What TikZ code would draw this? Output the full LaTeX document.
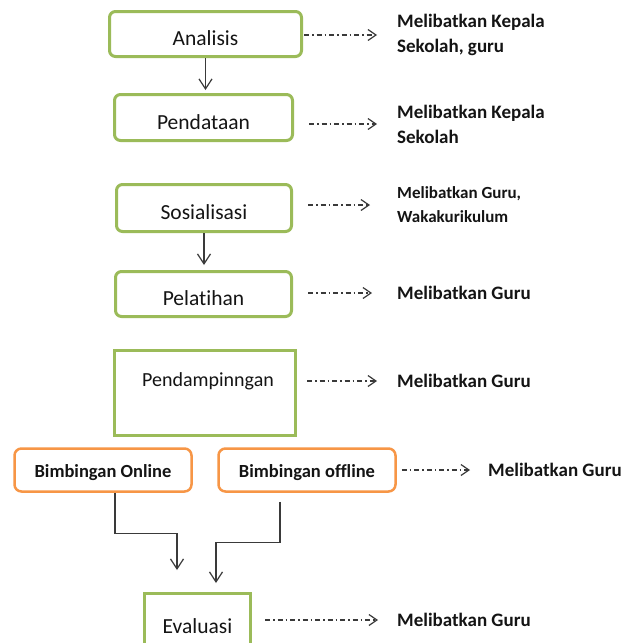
\documentclass[tikz,border=0pt]{standalone}
\usepackage{fontspec}
\setmainfont[Ligatures={NoCommon}]{Carlito}
\usetikzlibrary{arrows.meta}
\definecolor{gbox}{HTML}{9BBB59}
\definecolor{obox}{HTML}{F79646}
\definecolor{lnk}{HTML}{3A3A3A}
\definecolor{txt}{HTML}{141414}
\begin{document}
\begin{tikzpicture}[x=1pt,y=-1pt,
  gbx/.style={draw=gbox, line width=3pt, rounded corners=6pt, inner sep=0pt,
    font=\fontsize{21.5}{25}\selectfont, text=txt, text height=23pt, text depth=0pt},
  gsq/.style={draw=gbox, line width=3pt, inner sep=0pt,
    font=\fontsize{21.5}{25}\selectfont, text=txt},
  obx/.style={draw=obox, line width=2.5pt, rounded corners=7pt, inner sep=0pt,
    font=\bfseries\fontsize{18.5}{22}\selectfont, text=txt, text height=14pt, text depth=0pt},
  lbl/.style={anchor=west, inner sep=0pt, align=left, text=txt,
    font=\bfseries\fontsize{19}{25}\selectfont},
  lbls/.style={anchor=west, inner sep=0pt, align=left, text=txt,
    font=\bfseries\fontsize{17}{24}\selectfont},
  dsh/.style={draw=lnk, line width=1.1pt, dash pattern=on 5pt off 3pt on 1.5pt off 3pt,
    -{Straight Barb[length=8pt,width=11pt,line width=1.2pt]}},
  sol/.style={draw=lnk, line width=1.2pt,
    -{Straight Barb[length=10pt,width=13pt,line width=1.2pt]}}
]
\useasboundingbox (0,0) rectangle (623,643);
\clip (0,0) rectangle (623,643);
\fill[white] (0,0) rectangle (623,643);

% boxes
\node[gbx, minimum width=192pt, minimum height=45pt] (an) at (205.5,34) {Analisis};
\node[gbx, minimum width=178pt, minimum height=46pt] (pe) at (203.5,117.5) {Pendataan};
\node[gbx, minimum width=175pt, minimum height=47pt] (so) at (204,208) {Sosialisasi};
\node[gbx, minimum width=176pt, minimum height=45pt] (pl) at (203.5,294) {Pelatihan};
\node[gsq, minimum width=181pt, minimum height=85pt, text height=0pt, text depth=14pt,
  font=\fontsize{20}{24}\selectfont] (pd) at (205,393) {\hspace*{6pt}Pendampinngan};
\node[obx, minimum width=177pt, minimum height=43pt] (bo) at (103,470) {Bimbingan Online};
\node[obx, minimum width=177pt, minimum height=43pt] (bf) at (307,470) {Bimbingan offline};
\node[gsq, minimum width=106pt, minimum height=65pt] (ev) at (197.5,626) {Evaluasi};

% labels
\node[lbl] (l1) at (397,35) {Melibatkan Kepala\\Sekolah, guru};
\node[lbl] (l2) at (397,124) {Melibatkan Kepala\\Sekolah};
\node[lbls] (l3) at (397,205) {Melibatkan Guru,\\Wakakurikulum};
\node[lbl] (l4) at (397,293) {Melibatkan Guru};
\node[lbl] (l5) at (397,381) {Melibatkan Guru};
\node[lbl] (l6) at (488,470) {Melibatkan Guru};
\node[lbl] (l7) at (397,620) {Melibatkan Guru};

% dashed connectors
\draw[dsh, shorten <=1pt, shorten >=20pt] (an.east |- l1.west) -- (l1.west);
\draw[dsh, shorten <=15pt, shorten >=20pt] (pe.east |- l2.west) -- (l2.west);
\draw[dsh, shorten <=15pt, shorten >=27pt] (so.east |- l3.west) -- (l3.west);
\draw[dsh, shorten <=15pt, shorten >=25pt] (pl.east |- l4.west) -- (l4.west);
\draw[dsh, shorten <=10pt, shorten >=20pt] (pd.east |- l5.west) -- (l5.west);
\draw[dsh, shorten <=5pt, shorten >=18pt] (bf.east |- l6.west) -- (l6.west);
\draw[dsh, shorten <=13pt, shorten >=19pt] (ev.east |- l7.west) -- (l7.west);

% solid connectors
\draw[sol, shorten >=3pt] (an.south) -- (an.south |- pe.north);
\draw[sol, shorten >=5pt] (so.south) -- (so.south |- pl.north);
\draw[sol] ([xshift=12pt]bo.south) -- ++(0,41) -| ([xshift=-20.5pt,yshift=22pt]ev.north);
\draw[sol] ([xshift=-27pt,yshift=-9pt]bf.south) -- ++(0,41) -| ([xshift=18.5pt,yshift=9pt]ev.north);
\end{tikzpicture}
\end{document}
